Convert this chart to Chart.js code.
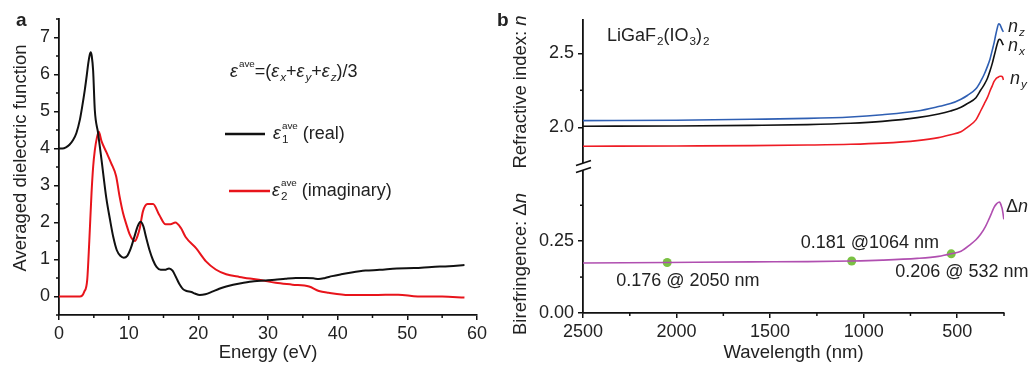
<!DOCTYPE html>
<html>
<head>
<meta charset="utf-8">
<script src="https://cdn.jsdelivr.net/npm/chart.js@4.4.1/dist/chart.umd.min.js"></script>
<style>
  body { margin: 0; background: #fff; overflow: hidden; }
  #wrap { position: relative; width: 1032px; height: 365px; }
  #ca { position: absolute; left: 0; top: 0; }
  #cb { position: absolute; left: 490px; top: 0; }
</style>
</head>
<body>
<div id="wrap">
  <canvas id="ca" width="490" height="365"></canvas>
  <canvas id="cb" width="542" height="365"></canvas>
</div>
<script>
// panel a: averaged dielectric function
const energyReal = [0,0.5,1,1.5,2,2.5,3,3.3,3.7,4,4.2,4.4,4.55,4.7,4.9,5.14,5.6,6.1,6.8,7.3,7.8,8.3,8.8,9.3,9.8,10.3,10.8,11.3,11.7,12.1,12.5,13,13.5,14,14.6,15.2,15.8,16.3,16.8,17.3,17.8,18.3,19,19.5,20.2,21,22,23,24,25,26.5,28,29.5,31,32.5,34,35.5,36.5,37.3,38.2,39.2,40.5,42,44,46,48.5,51,53.5,56,58.2];
const eps1 = [4.0,4.0,4.03,4.1,4.22,4.42,4.78,5.1,5.58,6.0,6.3,6.52,6.6,6.5,6.1,5.04,4.43,3.7,2.65,2.1,1.6,1.25,1.1,1.05,1.1,1.3,1.6,1.9,2.02,1.9,1.6,1.25,0.98,0.8,0.72,0.72,0.76,0.7,0.52,0.33,0.2,0.15,0.12,0.08,0.04,0.06,0.13,0.21,0.27,0.32,0.37,0.41,0.43,0.45,0.48,0.5,0.5,0.49,0.47,0.5,0.55,0.6,0.65,0.7,0.72,0.76,0.77,0.8,0.82,0.85];
const energyImag = [0,1,2,3,3.3,3.6,4.05,4.35,4.67,4.9,5.14,5.45,5.71,6.1,6.8,7.5,8.2,8.7,9.2,9.67,10.1,10.6,10.9,11.3,11.6,12.05,12.7,13.5,14.4,15.3,16.0,16.7,17.5,18.2,19.7,21.1,22.5,24,25.9,28.7,31.1,33.5,35.9,37.3,38.7,41.6,45,48.7,51.5,55,58.2];
const eps2 = [0,0,0,0,0.02,0.12,0.45,1.5,2.8,3.5,3.95,4.3,4.45,4.2,3.9,3.6,3.25,2.7,2.25,1.95,1.7,1.53,1.5,1.65,1.85,2.3,2.5,2.5,2.2,1.95,1.95,2.0,1.85,1.6,1.3,0.95,0.73,0.6,0.53,0.45,0.37,0.32,0.27,0.15,0.1,0.04,0.04,0.05,0.0,0.0,-0.03];
const energyTicks = [0,10,20,30,40,50,60];
const energyMinor = [5,15,25,35,45,55];
const epsTicks = [0,1,2,3,4,5,6,7];
const epsMinor = [-0.5,0.5,1.5,2.5,3.5,4.5,5.5,6.5,7.5];

// panel b: refractive indices and birefringence
const waveN = [2500,2000,1600,1300,1070,900,714,600,536,480,446,400,375,355,339,325,313,303,295,286,279,272,265,258,253];
const nz = [2.045,2.048,2.054,2.06,2.07,2.085,2.11,2.14,2.16,2.19,2.215,2.26,2.31,2.36,2.41,2.46,2.52,2.57,2.62,2.67,2.70,2.695,2.675,2.655,2.645];
const nx = [2.007,2.009,2.013,2.018,2.027,2.04,2.065,2.09,2.11,2.135,2.16,2.2,2.25,2.29,2.33,2.38,2.43,2.48,2.52,2.565,2.59,2.595,2.585,2.565,2.555];
const ny = [1.872,1.874,1.876,1.88,1.885,1.893,1.91,1.93,1.95,1.97,2.0,2.05,2.11,2.16,2.2,2.245,2.28,2.31,2.325,2.335,2.34,2.345,2.345,2.34,2.32];
const waveDn = [2500,2050,1600,1300,1064,900,714,600,532,480,429,400,375,350,331,315,304,290,280,274,268,263,259,255,251];
const dn = [0.174,0.176,0.178,0.179,0.181,0.184,0.19,0.197,0.206,0.215,0.239,0.255,0.274,0.30,0.326,0.35,0.367,0.38,0.385,0.386,0.38,0.37,0.361,0.345,0.326];
const markWave = [2050,1064,532];
const markDn = [0.176,0.181,0.206];
const markText = ["0.176 @ 2050 nm", "0.181 @1064 nm", "0.206 @ 532 nm"];
const waveTicks = [2500,2000,1500,1000,500];
const waveMinor = [2250,1750,1250,750,250];
const nTicks = [2.0,2.5];
const nMinor = [2.25];
const dnTicks = [0,0.25];
const dnMinor = [0.125,0.375];

const FONT = "'Liberation Sans', Arial, Helvetica, sans-serif";
const INK = "#222";
const TXT = 18;
Chart.defaults.font.family = FONT;
Chart.defaults.font.size = TXT;
Chart.defaults.color = INK;

const pts = (xs, ys) => xs.map((x, i) => ({ x, y: ys[i] }));

function setFont(ctx, size, style) {
  ctx.font = (style || "") + " " + size + "px " + FONT;
}

// text pieces: {t, i (italic), sup, sub, subI}
function rich(ctx, x, y, parts, size, dry) {
  let cx = x;
  ctx.textBaseline = "middle";
  ctx.textAlign = "left";
  for (const p of parts) {
    setFont(ctx, size, p.i ? "italic" : "");
    if (!dry) ctx.fillText(p.t, cx, y);
    const w = ctx.measureText(p.t).width;
    let extra = 0;
    if (p.sup) {
      setFont(ctx, size * 0.55, "");
      if (!dry) ctx.fillText(p.sup, cx + w + 1, y - size * 0.42);
      extra = ctx.measureText(p.sup).width + 1;
    }
    if (p.sub) {
      setFont(ctx, size * 0.65, p.subI ? "italic" : "");
      if (!dry) ctx.fillText(p.sub, cx + w + 1, y + size * 0.3);
      extra = Math.max(extra, ctx.measureText(p.sub).width + 1);
    }
    cx += w + extra;
  }
  return cx - x;
}

function richUp(ctx, cx, cy, parts, size) {
  ctx.save();
  ctx.translate(cx, cy);
  ctx.rotate(-Math.PI / 2);
  const w = rich(ctx, 0, 0, parts, size, true);
  rich(ctx, -w / 2, 0, parts, size);
  ctx.restore();
}

const minorTicks = {
  id: "minorTicks",
  afterDraw(chart, args, opts) {
    const ctx = chart.ctx;
    ctx.save();
    ctx.strokeStyle = "#111";
    ctx.lineWidth = 1.5;
    for (const [id, vals] of Object.entries(opts.scales || {})) {
      const s = chart.scales[id];
      vals.forEach(v => {
        const p = s.getPixelForValue(v);
        ctx.beginPath();
        if (s.isHorizontal()) { ctx.moveTo(p, s.top); ctx.lineTo(p, s.top + 3); }
        else { ctx.moveTo(s.right, p); ctx.lineTo(s.right - 3, p); }
        ctx.stroke();
      });
    }
    ctx.restore();
  }
};

function axis(ticks, labelFn, fitSize, horizontal) {
  return {
    type: "linear",
    grid: { drawOnChartArea: false, tickLength: 5, color: "#111", lineWidth: 1.5 },
    border: { color: "#111", width: 1.8 },
    ticks: { padding: horizontal ? 3 : 4, color: INK, callback: labelFn, maxRotation: 0 },
    afterBuildTicks: s => { s.ticks = ticks.map(v => ({ value: v })); },
    afterFit: s => { if (horizontal) s.height = fitSize; else s.width = fitSize; }
  };
}

// ---------- panel a ----------
const panelA = {
  id: "panelA",
  afterDraw(chart) {
    const ctx = chart.ctx;
    ctx.save();
    ctx.fillStyle = INK;
    setFont(ctx, 19, "bold");
    ctx.textBaseline = "middle";
    ctx.fillText("a", 16, 21);
    richUp(ctx, 21, 158, [{ t: "Averaged dielectric function" }], 18.5);

    rich(ctx, 230, 72, [
      { t: "\u03b5", i: true, sup: "ave" }, { t: "=(" },
      { t: "\u03b5", i: true, sub: "x", subI: true }, { t: "+" },
      { t: "\u03b5", i: true, sub: "y", subI: true }, { t: "+" },
      { t: "\u03b5", i: true, sub: "z", subI: true }, { t: ")/3" }
    ], TXT);

    ctx.lineWidth = 2.5;
    ctx.strokeStyle = "#111";
    ctx.beginPath(); ctx.moveTo(225, 134); ctx.lineTo(265, 134); ctx.stroke();
    rich(ctx, 273, 134, [{ t: "\u03b5", i: true, sup: "ave", sub: "1" }, { t: " (real)" }], TXT);
    ctx.strokeStyle = "#e8141b";
    ctx.beginPath(); ctx.moveTo(229, 191); ctx.lineTo(270, 191); ctx.stroke();
    rich(ctx, 272, 191, [{ t: "\u03b5", i: true, sup: "ave", sub: "2" }, { t: " (imaginary)" }], TXT);
    ctx.restore();
  }
};

new Chart(document.getElementById("ca"), {
  type: "line",
  data: {
    datasets: [
      { data: pts(energyReal, eps1), borderColor: "#111", borderWidth: 2, pointRadius: 0, cubicInterpolationMode: "monotone" },
      { data: pts(energyImag, eps2), borderColor: "#e8141b", borderWidth: 2, pointRadius: 0, cubicInterpolationMode: "monotone" }
    ]
  },
  options: {
    responsive: false,
    animation: false,
    layout: { padding: { top: 19, right: 11, left: 0, bottom: 0 } },
    plugins: {
      legend: { display: false },
      tooltip: { enabled: false },
      minorTicks: { scales: { x: energyMinor, y: epsMinor } }
    },
    scales: {
      x: Object.assign(axis(energyTicks, v => String(v), 50, true), {
        min: 0, max: 60,
        title: { display: true, text: "Energy (eV)", color: INK, font: { size: 18.5 }, padding: { top: 0, bottom: 1 } }
      }),
      y: Object.assign(axis(epsTicks, v => String(v), 59, false), { min: -0.5, max: 7.5 })
    }
  },
  plugins: [minorTicks, panelA]
});

// ---------- panel b ----------
const panelB = {
  id: "panelB",
  afterDraw(chart) {
    const ctx = chart.ctx;
    const area = chart.chartArea;
    const sx = chart.scales.x, sb = chart.scales.yBot;
    ctx.save();

    // axis break
    const ax = area.left, by = sb.top;
    ctx.fillStyle = "#fff";
    ctx.beginPath();
    ctx.moveTo(ax - 7, by - 1); ctx.lineTo(ax + 8, by - 6);
    ctx.lineTo(ax + 8, by + 1); ctx.lineTo(ax - 7, by + 6);
    ctx.closePath(); ctx.fill();
    ctx.strokeStyle = "#111"; ctx.lineWidth = 1.8;
    ctx.beginPath();
    ctx.moveTo(ax - 7, by - 1); ctx.lineTo(ax + 8, by - 6);
    ctx.moveTo(ax - 7, by + 6); ctx.lineTo(ax + 8, by + 1);
    ctx.stroke();

    ctx.fillStyle = INK;
    setFont(ctx, 19, "bold");
    ctx.textBaseline = "middle";
    ctx.fillText("b", 7, 21);
    richUp(ctx, 31, 92, [{ t: "Refractive index: " }, { t: "n", i: true }], 18.5);
    richUp(ctx, 31, 264, [{ t: "Birefringence: \u0394" }, { t: "n", i: true }], 18.5);

    rich(ctx, 117, 36, [{ t: "LiGaF", sub: "2" }, { t: "(IO", sub: "3" }, { t: ")", sub: "2" }], TXT);
    rich(ctx, area.right + 4, 27, [{ t: "n", i: true, sub: "z", subI: true }], 18);
    rich(ctx, area.right + 4, 46, [{ t: "n", i: true, sub: "x", subI: true }], 18);
    rich(ctx, area.right + 6, 79, [{ t: "n", i: true, sub: "y", subI: true }], 18);
    rich(ctx, area.right + 2, 207, [{ t: "\u0394" }, { t: "n", i: true }], 18);

    const off = [[-51, 19], [-51, -18], [-56, 18]];
    markWave.forEach((w, i) => {
      const px = sx.getPixelForValue(w), py = sb.getPixelForValue(markDn[i]);
      rich(ctx, px + off[i][0], py + off[i][1], [{ t: markText[i] }], TXT);
    });
    ctx.restore();
  }
};

const lineDs = (data, color, axisId) => ({
  data, yAxisID: axisId, borderColor: color, borderWidth: 1.6, pointRadius: 0, cubicInterpolationMode: "monotone"
});

new Chart(document.getElementById("cb"), {
  type: "line",
  data: {
    datasets: [
      lineDs(pts(waveN, nz), "#2f5fb3", "yTop"),
      lineDs(pts(waveN, nx), "#111", "yTop"),
      lineDs(pts(waveN, ny), "#ee1c25", "yTop"),
      lineDs(pts(waveDn, dn), "#b04fb0", "yBot"),
      { data: pts(markWave, markDn), yAxisID: "yBot", showLine: false, pointRadius: 4.5,
        pointBackgroundColor: "#7ac143", pointBorderWidth: 0 }
    ]
  },
  options: {
    responsive: false,
    animation: false,
    layout: { padding: { top: 20, right: 28, left: 0, bottom: 0 } },
    plugins: {
      legend: { display: false },
      tooltip: { enabled: false },
      minorTicks: { scales: { x: waveMinor, yTop: nMinor, yBot: dnMinor } }
    },
    scales: {
      x: Object.assign(axis(waveTicks, v => String(v), 52, true), {
        min: 250, max: 2500, reverse: true,
        title: { display: true, text: "Wavelength (nm)", color: INK, font: { size: 18.5 }, padding: { top: 0, bottom: 1 } }
      }),
      yBot: Object.assign(axis(dnTicks, v => v.toFixed(2), 93, false), {
        position: "left", stack: "b", stackWeight: 1, min: 0, max: 0.51
      }),
      yTop: Object.assign(axis(nTicks, v => v.toFixed(1), 93, false), {
        position: "left", stack: "b", stackWeight: 1, min: 1.735, max: 2.725
      })
    }
  },
  plugins: [minorTicks, panelB]
});
</script>
</body>
</html>
